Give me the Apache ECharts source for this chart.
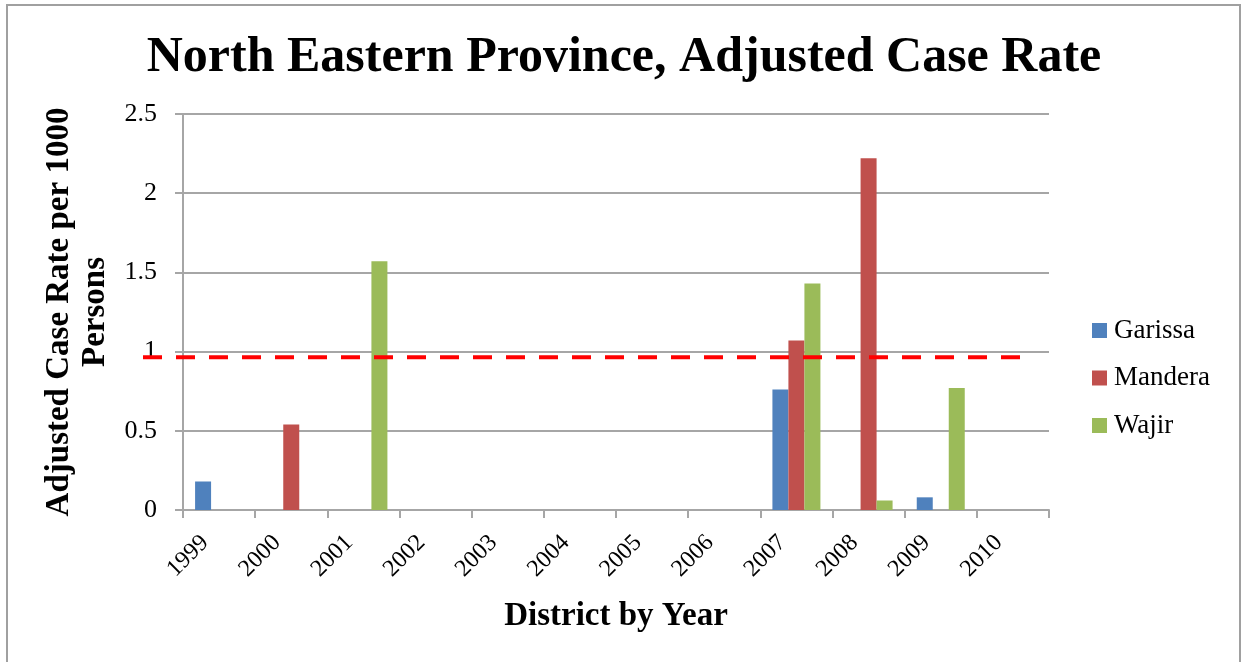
<!DOCTYPE html>
<html>
<head>
<meta charset="utf-8">
<script src="https://cdn.jsdelivr.net/npm/echarts@6/dist/echarts.min.js"></script>
<style>
  html, body { margin: 0; padding: 0; background: #fff; }
  #chart { width: 1248px; height: 662px; }
</style>
</head>
<body>
<div id="chart"></div>
<script>
// Adjusted case rate per 1000 persons, North Eastern Province districts
const years = ['1999', '2000', '2001', '2002', '2003', '2004', '2005', '2006', '2007', '2008', '2009', '2010'];
const garissa = [0.18, 0, 0, 0, 0, 0, 0, 0, 0.76, 0, 0.08, 0];
const mandera = [0, 0.54, 0, 0, 0, 0, 0, 0, 1.07, 2.22, 0, 0];
const wajir   = [0, 0, 1.57, 0, 0, 0, 0, 0, 1.43, 0.06, 0.77, 0];
const yTicks = [0, 0.5, 1, 1.5, 2, 2.5];
// Reference threshold drawn as a dashed line
const THRESHOLD = 0.965;

const FONT = '"Liberation Serif", "DejaVu Serif", serif';
const GRID = { left: 183, right: 199, top: 114, bottom: 152 };

const chart = echarts.init(document.getElementById('chart'), null, { renderer: 'canvas' });

const bar = (name, data, color) => ({
  name, type: 'bar', data,
  barWidth: 16, barGap: '0%',
  itemStyle: { color },
  emphasis: { disabled: true }
});

chart.setOption({
  backgroundColor: '#ffffff',
  animation: false,
  title: {
    text: 'North Eastern Province, Adjusted Case Rate',
    left: 'center', top: 28,
    textStyle: { fontFamily: FONT, fontWeight: 'bold', fontSize: 50, color: '#000' }
  },
  legend: {
    orient: 'vertical', left: 1092, top: 317, padding: 0,
    itemWidth: 15, itemHeight: 15, itemGap: 20.5,
    icon: 'rect',
    textStyle: { fontFamily: FONT, fontSize: 27, lineHeight: 27, color: '#000', padding: [0, 0, 0, 2] },
    data: ['Garissa', 'Mandera', 'Wajir']
  },
  grid: GRID,
  xAxis: {
    type: 'category', data: years,
    name: 'District by Year', nameLocation: 'middle', nameGap: 90,
    nameTextStyle: { fontFamily: FONT, fontWeight: 'bold', fontSize: 33, color: '#000' },
    axisLine: { lineStyle: { color: '#a6a6a6', width: 2 } },
    axisTick: { show: true, length: 8, lineStyle: { color: '#a6a6a6', width: 2 } },
    axisLabel: { rotate: 45, margin: 15, padding: [0, 20, 0, 0], fontFamily: FONT, fontSize: 24, color: '#000' }
  },
  yAxis: {
    type: 'value', min: yTicks[0], max: yTicks[yTicks.length - 1], interval: 0.5,
    name: 'Adjusted Case Rate per 1000\nPersons', nameLocation: 'middle', nameGap: 63,
    nameTextStyle: { fontFamily: FONT, fontWeight: 'bold', fontSize: 33, color: '#000', lineHeight: 36 },
    axisLine: { show: true, lineStyle: { color: '#a6a6a6', width: 2 } },
    axisTick: { show: true, length: 8, lineStyle: { color: '#a6a6a6', width: 2 } },
    splitLine: { lineStyle: { color: '#a6a6a6', width: 2 } },
    axisLabel: { margin: 26, fontFamily: FONT, fontSize: 26, color: '#000' }
  },
  series: [
    bar('Garissa', garissa, '#4F81BD'),
    bar('Mandera', mandera, '#C0504D'),
    bar('Wajir', wajir, '#9BBB59')
  ]
});

// Outer frame and threshold line, placed through the y-axis scale
const yLine = chart.convertToPixel({ yAxisIndex: 0 }, THRESHOLD);
chart.setOption({
  graphic: [
    {
      type: 'rect', z: 100,
      shape: { x: 7, y: 5, width: 1233, height: 670 },
      style: { fill: 'none', stroke: '#a0a0a0', lineWidth: 2 }
    },
    {
      type: 'line', z: 100,
      shape: { x1: GRID.left - 40, y1: yLine, x2: 1248 - GRID.right - 15, y2: yLine },
      style: { stroke: '#ff0000', lineWidth: 4, lineDash: [19, 14] }
    }
  ]
});
</script>
</body>
</html>
